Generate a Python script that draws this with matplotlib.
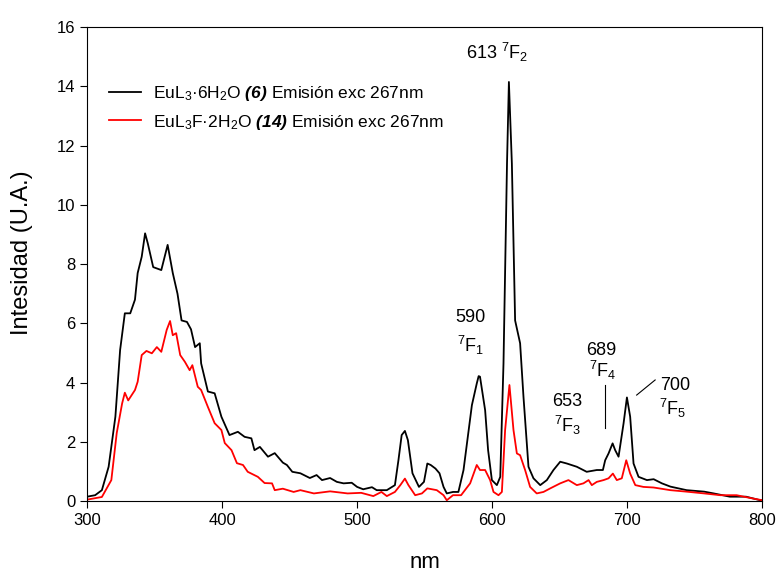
import matplotlib.pyplot as plt

plt.rcParams['font.family'] = ['Liberation Sans', 'DejaVu Sans']
plt.rcParams['mathtext.fontset'] = 'custom'
plt.rcParams['mathtext.rm'] = 'Liberation Sans'
plt.rcParams['mathtext.it'] = 'Liberation Sans:italic'
plt.rcParams['mathtext.bf'] = 'Liberation Sans:bold'
plt.rcParams['mathtext.bfit'] = 'Liberation Sans:bold:italic'

# EuL3·6H2O (6) emission, exc 267 nm
nm_black = [300, 306, 311, 316, 321, 324.5, 328, 332, 335.5, 337.5, 340.5, 343, 345, 349, 355,
            359.7, 363.5, 367, 370, 374, 377, 380, 383.5, 384.5, 389.5, 394.5, 399.5, 405.5,
            411.7, 416.7, 421.7, 424, 428, 434, 439, 445, 448, 452, 458, 465, 470, 474, 480,
            485, 490, 496, 500, 504.5, 511, 514.5, 522, 528, 530.6, 533, 535.4, 537.6, 541,
            545.8, 549.5, 552, 554.5, 558, 561, 564, 566.4, 571, 575, 578.8, 585, 588.6, 590,
            591, 594.8, 597, 599.8, 603.5, 606, 608.4, 611, 612.4, 614.6, 617, 620.7, 623.2,
            626.9, 630.6, 635.6, 640.5, 645.4, 650.4, 655.3, 662.7, 670, 677.5, 682, 683.7,
            686.2, 689.2, 691.1, 693.6, 697.3, 699.8, 702.2, 704.7, 708.4, 714.6, 719.6, 725.7,
            732, 744, 757, 764, 776, 788, 798.5, 800]
int_black = [0.15, 0.2, 0.37, 1.16, 2.85, 5.1, 6.34, 6.34, 6.8, 7.7, 8.25, 9.04, 8.7, 7.9, 7.8,
             8.65, 7.7, 7.0, 6.1, 6.05, 5.8, 5.2, 5.33, 4.65, 3.7, 3.64, 2.85, 2.23,
             2.34, 2.17, 2.12, 1.72, 1.83, 1.5, 1.62, 1.3, 1.22, 0.99, 0.94, 0.78, 0.88, 0.71, 0.78,
             0.65, 0.6, 0.62, 0.48, 0.4, 0.47, 0.37, 0.37, 0.54, 1.38, 2.23, 2.37, 2.06, 0.94,
             0.48, 0.65, 1.27, 1.22, 1.1, 0.94, 0.48, 0.26, 0.31, 0.31, 1.05, 3.24, 3.97, 4.22,
             4.2, 3.07, 1.72, 0.71, 0.54, 0.82, 4.65, 11.4, 14.15, 11.4, 6.1, 5.33, 3.52,
             1.16, 0.77, 0.54, 0.71, 1.05, 1.33, 1.27, 1.16, 0.99, 1.05, 1.05, 1.38,
             1.61, 1.95, 1.72, 1.5, 2.62, 3.5, 2.85, 1.27, 0.82, 0.71, 0.74, 0.6,
             0.49, 0.37, 0.32, 0.26, 0.15, 0.15, 0.03, 0.03]

# EuL3F·2H2O (14) emission, exc 267 nm
nm_red = [300, 311, 318, 322, 326, 328, 330.5, 335.5, 337.5, 340.5, 344, 348, 351.7, 355, 359,
          361.5, 363.5, 366, 369, 372.5, 376, 378, 382, 384.5, 389.5, 394.5, 399.5, 402, 407,
          411, 415.5, 419, 426.5, 431.5, 437, 439, 445, 453, 458, 468, 480, 493, 503, 512, 518,
          522, 528, 532, 535.4, 538, 543, 548, 552, 559, 564, 566.4, 571, 577, 583.7, 588.6,
          591, 594.8, 598.5, 601, 604.7, 607.2, 609.6, 612.8, 615.8, 618.3, 620.7, 624.4,
          628.1, 633, 638, 643, 650.4, 656.5, 662.7, 667.6, 671.4, 673.8, 677.5, 682.5, 686.2,
          689.4, 692.3, 696, 699.3, 702.2, 706, 712, 719.5, 732, 744, 757, 769, 781, 793, 800]
int_red = [0.05, 0.14, 0.71, 2.3, 3.3, 3.66, 3.4, 3.75, 4.03, 4.93, 5.07, 4.99, 5.2, 5.04, 5.78,
           6.08, 5.6, 5.67, 4.93, 4.7, 4.42, 4.59, 3.86, 3.75, 3.18, 2.63, 2.4, 1.96, 1.72,
           1.28, 1.22, 0.99, 0.82, 0.61, 0.6, 0.37, 0.42, 0.31, 0.37, 0.26, 0.33, 0.26, 0.28, 0.17, 0.31,
           0.17, 0.31, 0.54, 0.76, 0.54, 0.2, 0.26, 0.43, 0.37, 0.2, 0.03, 0.2, 0.2, 0.6, 1.22,
           1.05, 1.05, 0.71, 0.31, 0.2, 0.31, 2.4, 3.92, 2.4, 1.61, 1.55, 1.05,
           0.48, 0.26, 0.31, 0.43, 0.6, 0.71, 0.54, 0.6, 0.71, 0.54, 0.65, 0.71, 0.77,
           0.93, 0.71, 0.77, 1.38, 0.93, 0.54, 0.48, 0.46, 0.37, 0.32, 0.26, 0.2, 0.2, 0.09, 0.03]

fig = plt.figure(figsize=(7.77, 5.78), dpi=100)
ax = fig.add_axes([0.112, 0.133, 0.869, 0.82])

ax.plot(nm_black, int_black, color='black', lw=1.3,
        label=r'EuL$_3$·6H$_2$O $\mathbfit{(6)}$ Emisión exc 267nm')
ax.plot(nm_red, int_red, color='red', lw=1.3,
        label=r'EuL$_3$F·2H$_2$O $\mathbfit{(14)}$ Emisión exc 267nm')

ax.set_xlim(300, 800)
ax.set_ylim(0, 16)
ax.set_xticks(range(300, 801, 100))
ax.set_yticks(range(0, 17, 2))
ax.tick_params(labelsize=12, direction='out', length=5)
ax.set_xlabel('nm', fontsize=16)
ax.xaxis.set_label_coords(0.5, -0.108)
ax.set_ylabel('Intesidad (U.A.)', fontsize=17)
ax.yaxis.set_label_coords(-0.08, 0.525)

ax.legend(loc='upper left', bbox_to_anchor=(0.01, 0.913), frameon=False, fontsize=12.5,
          handlelength=1.8, handletextpad=0.7, labelspacing=0.55)

# peak labels
fs = 13
ax.text(604, 14.93, r'613 $^7$F$_2$', ha='center', va='baseline', fontsize=fs)
ax.text(583.7, 6.05, '590', ha='center', va='baseline', fontsize=fs)
ax.text(583.7, 5.03, r'$^7$F$_1$', ha='center', va='baseline', fontsize=fs)
ax.text(655.6, 3.21, '653', ha='center', va='baseline', fontsize=fs)
ax.text(656, 2.33, r'$^7$F$_3$', ha='center', va='baseline', fontsize=fs)
ax.text(680.7, 4.93, '689', ha='center', va='baseline', fontsize=fs)
ax.text(682, 4.19, r'$^7$F$_4$', ha='center', va='baseline', fontsize=fs)
ax.plot([683.2, 683.2], [3.92, 2.47], color='black', lw=0.8)
ax.text(735.6, 3.75, '700', ha='center', va='baseline', fontsize=fs)
ax.text(734, 2.9, r'$^7$F$_5$', ha='center', va='baseline', fontsize=fs)
ax.plot([707, 720.7], [3.58, 4.09], color='black', lw=0.8)

fig.savefig('out.png', dpi=100)
